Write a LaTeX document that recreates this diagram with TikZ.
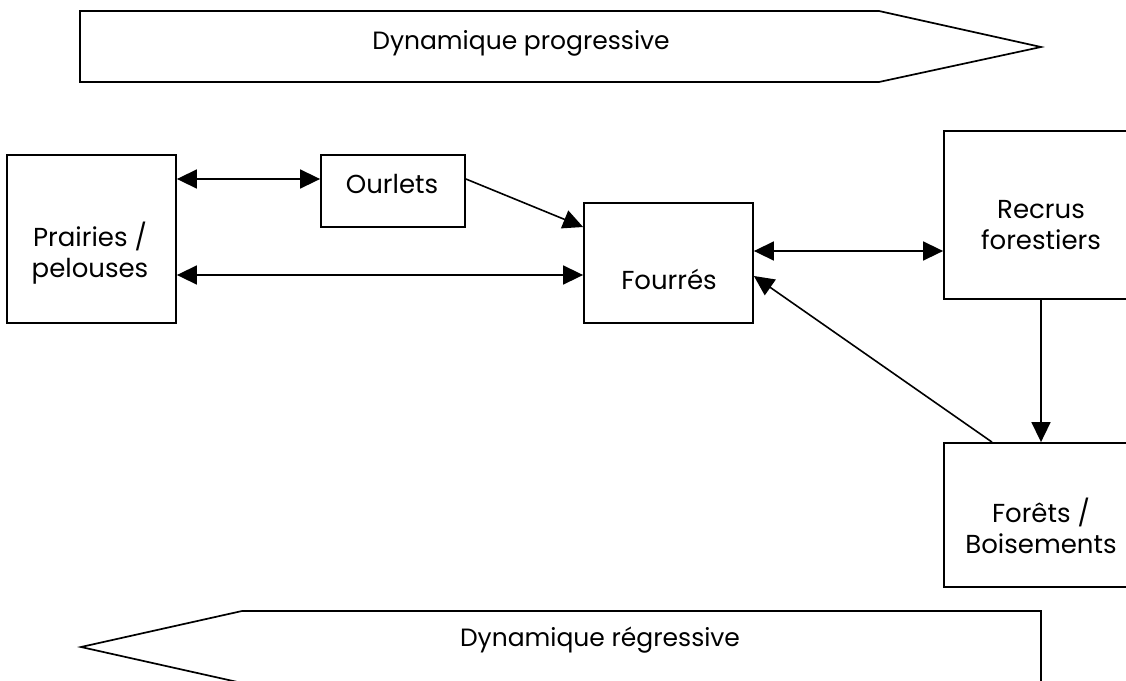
\documentclass[tikz,border=0pt]{standalone}
\usepackage{fontspec}
\setmainfont{Poppins}
\usetikzlibrary{arrows.meta}
\tikzset{
  box/.style={draw, line width=1.8pt, inner sep=0pt, fill=white},
  lbl/.style={inner sep=0pt, anchor=base, font=\fontsize{26}{31}\selectfont},
  ttl/.style={inner sep=0pt, anchor=base, font=\fontsize{25}{30}\selectfont},
  conn/.style={line width=1.6pt, -{Triangle[length=20pt,width=19pt]}},
  dconn/.style={line width=1.6pt, {Triangle[length=20pt,width=19pt]}-{Triangle[length=20pt,width=19pt]}},
  shapeline/.style={line width=1.7pt, line join=miter}
}
\newcommand{\twolines}[2]{\begin{tabular}[t]{@{}c@{}}#1\\#2\end{tabular}}
\begin{document}
\begin{tikzpicture}[x=1pt,y=-1pt]
\useasboundingbox (0,0) rectangle (1126,680);
\clip (0,0) rectangle (1126,680);
% big direction arrows
\draw[shapeline] (80,11) -- (879,11) -- (1041,47) -- (879,82) -- (80,82) -- cycle;
\node[ttl] (prog) at (521,49) {Dynamique progressive};
\draw[shapeline] (1041,611) -- (242,611) -- (81,647) -- (242,683) -- (1041,683) -- cycle;
\node[ttl] (regr) at (600,646) {Dynamique régressive};
% boxes
\node[box, minimum width=169pt, minimum height=168pt] (prairies) at (91.5,239) {};
\node[box, minimum width=144pt, minimum height=72pt] (ourlets) at (393,191) {};
\node[box, minimum width=169pt, minimum height=120pt] (fourres) at (668.5,263) {};
\node[box, minimum width=194pt, minimum height=168pt] (recrus) at (1041,215) {};
\node[box, minimum width=194pt, minimum height=144pt] (forets) at (1041,515) {};
% texts
\node[lbl] (prairiesT) at (90,246) {\twolines{Prairies /}{pelouses}};
\node[lbl] (ourletsT) at (392,193) {Ourlets};
\node[lbl] (fourresT) at (669,289) {Fourrés};
\node[lbl] (recrusT) at (1041,218) {\twolines{Recrus}{forestiers}};
\node[lbl] (foretsT) at (1041,522) {\twolines{Forêts /}{Boisements}};
% connectors
\coordinate (c1) at ([yshift=12pt]ourlets.west);
\draw[dconn] (prairies.east |- c1) -- (c1);
\coordinate (c2) at ([yshift=-12pt]fourres.west);
\draw[dconn] (prairies.east |- c2) -- (c2);
\draw[conn] ([yshift=12pt]ourlets.east) -- ([yshift=36pt]fourres.west);
\coordinate (c4) at ([yshift=-36pt]recrus.west);
\draw[dconn] (fourres.east |- c4) -- (c4);
\draw[conn] (recrus.south) -- (forets.north);
\draw[conn] ([xshift=-49pt]forets.north) -- ([yshift=-13pt]fourres.east);
\end{tikzpicture}
\end{document}
